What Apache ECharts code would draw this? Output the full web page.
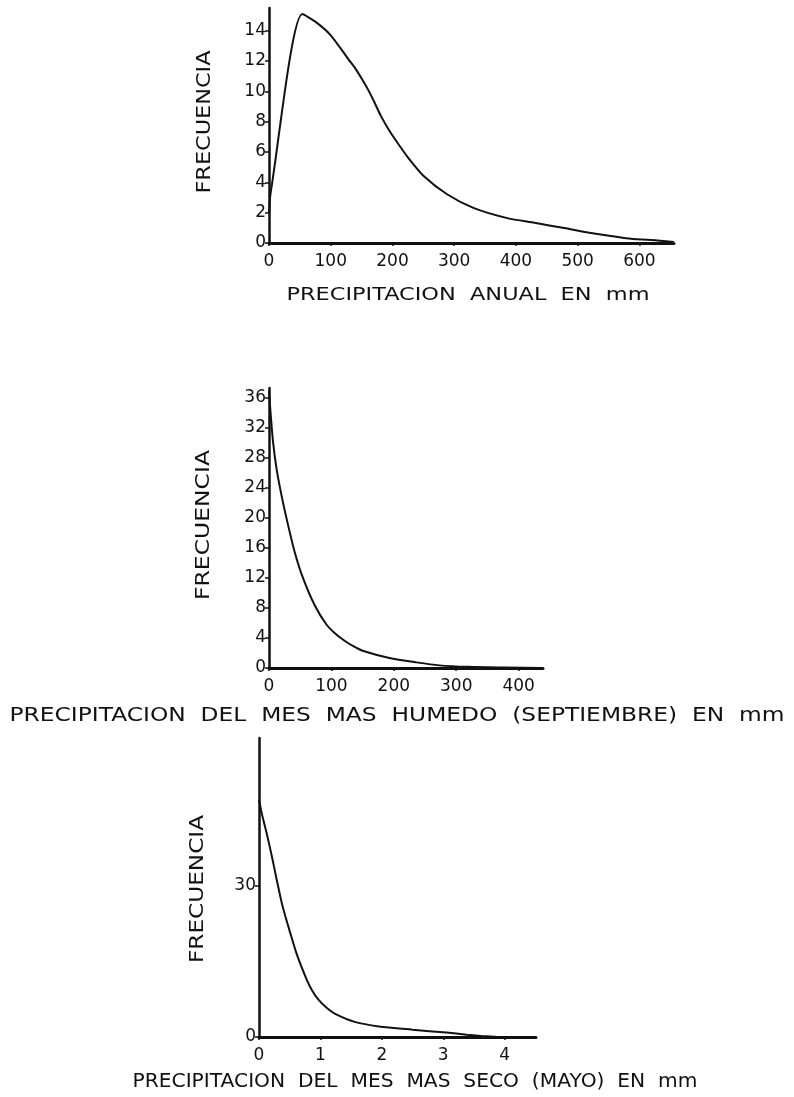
<!DOCTYPE html>
<html><head><meta charset="utf-8">
<script src="https://cdn.jsdelivr.net/npm/echarts@6/dist/echarts.min.js"></script>
<style>html,body{margin:0;padding:0;background:#fff}#c{width:794px;height:1097px}</style>
</head><body><div id="c"></div>
<script>
// Chart 1: annual precipitation (mm) vs frequency
var annualX = [0, 3, 54, 75, 100, 129, 140, 150, 160, 170, 181, 195, 210, 224, 251, 289, 332, 386, 430, 478, 532, 586, 629, 656];
var annualY = [2.0, 3.4, 15.1, 14.6, 13.7, 12.1, 11.5, 10.85, 10.15, 9.35, 8.4, 7.4, 6.5, 5.7, 4.4, 3.2, 2.3, 1.64, 1.33, 0.99, 0.59, 0.28, 0.17, 0.07];
var annualXTicks = [0, 100, 200, 300, 400, 500, 600];
var annualYTicks = [0, 2, 4, 6, 8, 10, 12, 14];
// Chart 2: wettest month (September)
var wetX = [0, 2.7, 6.4, 11.8, 19.8, 30.4, 41, 54.4, 73, 92, 106, 120, 135, 150, 193, 236, 273, 320, 380, 436];
var wetY = [36.9, 33.8, 30.2, 26.7, 23.1, 19.1, 15.5, 12.0, 8.4, 5.8, 4.6, 3.7, 2.9, 2.3, 1.33, 0.75, 0.35, 0.15, 0.06, 0.0];
var wetXTicks = [0, 100, 200, 300, 400];
var wetYTicks = [0, 4, 8, 12, 16, 20, 24, 28, 32, 36];
// Chart 3: driest month (May)
var dryX = [0, 0.044, 0.125, 0.21, 0.29, 0.37, 0.43, 0.5, 0.61, 0.78, 0.87, 0.96, 1.1, 1.24, 1.56, 1.95, 2.5, 3.05, 3.38, 3.7, 3.85];
var dryY = [47.0, 44.4, 40.4, 35.8, 31.1, 26.6, 23.9, 21.0, 16.6, 11.3, 9.1, 7.5, 5.8, 4.6, 3.0, 2.1, 1.45, 0.87, 0.47, 0.13, 0.05];
var dryXTicks = [0, 1, 2, 3, 4];
var dryYTicks = [0, 30];

var yName = 'FRECUENCIA';
var xName1 = 'PRECIPITACION  ANUAL  EN  mm';
var xName2 = 'PRECIPITACION  DEL  MES  MAS  HUMEDO  (SEPTIEMBRE)  EN  mm';
var xName3 = 'PRECIPITACION  DEL  MES  MAS  SECO  (MAYO)  EN  mm';

function zip(a, b) { return a.map(function (v, i) { return [v, b[i]]; }); }

var FONT = 'DejaVu Sans';
var INK = '#111';
var cv = document.createElement('canvas').getContext('2d');
function fitText(text, size, cx, cy, targetLen, vertical) {
  cv.font = size + 'px "' + FONT + '"';
  var w = cv.measureText(text).width;
  return {
    type: 'text', x: cx, y: cy, rotation: vertical ? Math.PI / 2 : 0,
    scaleX: targetLen / w,
    style: { text: text, fontFamily: FONT, fontSize: size, fill: INK,
      textAlign: 'center', textVerticalAlign: 'middle' }
  };
}

function yAx(grid, max, ticks) {
  return {
    type: 'value', gridIndex: grid, min: 0, max: max,
    splitLine: { show: false },
    axisLine: { show: true, lineStyle: { color: INK, width: 2.5 } },
    axisTick: { show: true, length: 4, customValues: ticks, lineStyle: { color: INK, width: 1.5 } },
    axisLabel: { color: INK, fontFamily: FONT, fontSize: 17, margin: 3, customValues: ticks }
  };
}
function xAx(grid, max, ticks) {
  return {
    type: 'value', gridIndex: grid, min: 0, max: max,
    splitLine: { show: false },
    axisLine: { show: true, lineStyle: { color: INK, width: 3 } },
    axisTick: { show: true, length: 3, customValues: ticks, lineStyle: { color: INK, width: 1.5 } },
    axisLabel: { color: INK, fontFamily: FONT, fontSize: 17, margin: 10, customValues: ticks }
  };
}
function line(i, xs, ys) {
  return { type: 'line', xAxisIndex: i, yAxisIndex: i, data: zip(xs, ys), showSymbol: false,
    smooth: 0.25, lineStyle: { color: INK, width: 2 } };
}

var chart = echarts.init(document.getElementById('c'));
chart.setOption({
  backgroundColor: '#fff',
  animation: false,
  grid: [
    { left: 269, top: 8, width: 405, height: 235 },
    { left: 269, top: 388, width: 274, height: 280 },
    { left: 259, top: 738, width: 277, height: 299 }
  ],
  xAxis: [
    xAx(0, 656, annualXTicks),
    xAx(1, 439, wetXTicks),
    xAx(2, 4.51, dryXTicks)
  ],
  yAxis: [
    yAx(0, 15.5, annualYTicks),
    yAx(1, 37.3, wetYTicks),
    yAx(2, 59.3, dryYTicks)
  ],
  series: [
    line(0, annualX, annualY),
    line(1, wetX, wetY),
    line(2, dryX, dryY)
  ],
  graphic: [
    fitText(yName, 19, 205, 122, 143, true),
    fitText(xName1, 18, 468, 295, 363, false),
    fitText(yName, 19, 204, 525, 150, true),
    fitText(xName2, 20, 397, 716, 775, false),
    fitText(yName, 19, 198, 889, 148, true),
    fitText(xName3, 20, 415, 1082, 565, false)
  ]
});
</script>
</body></html>
